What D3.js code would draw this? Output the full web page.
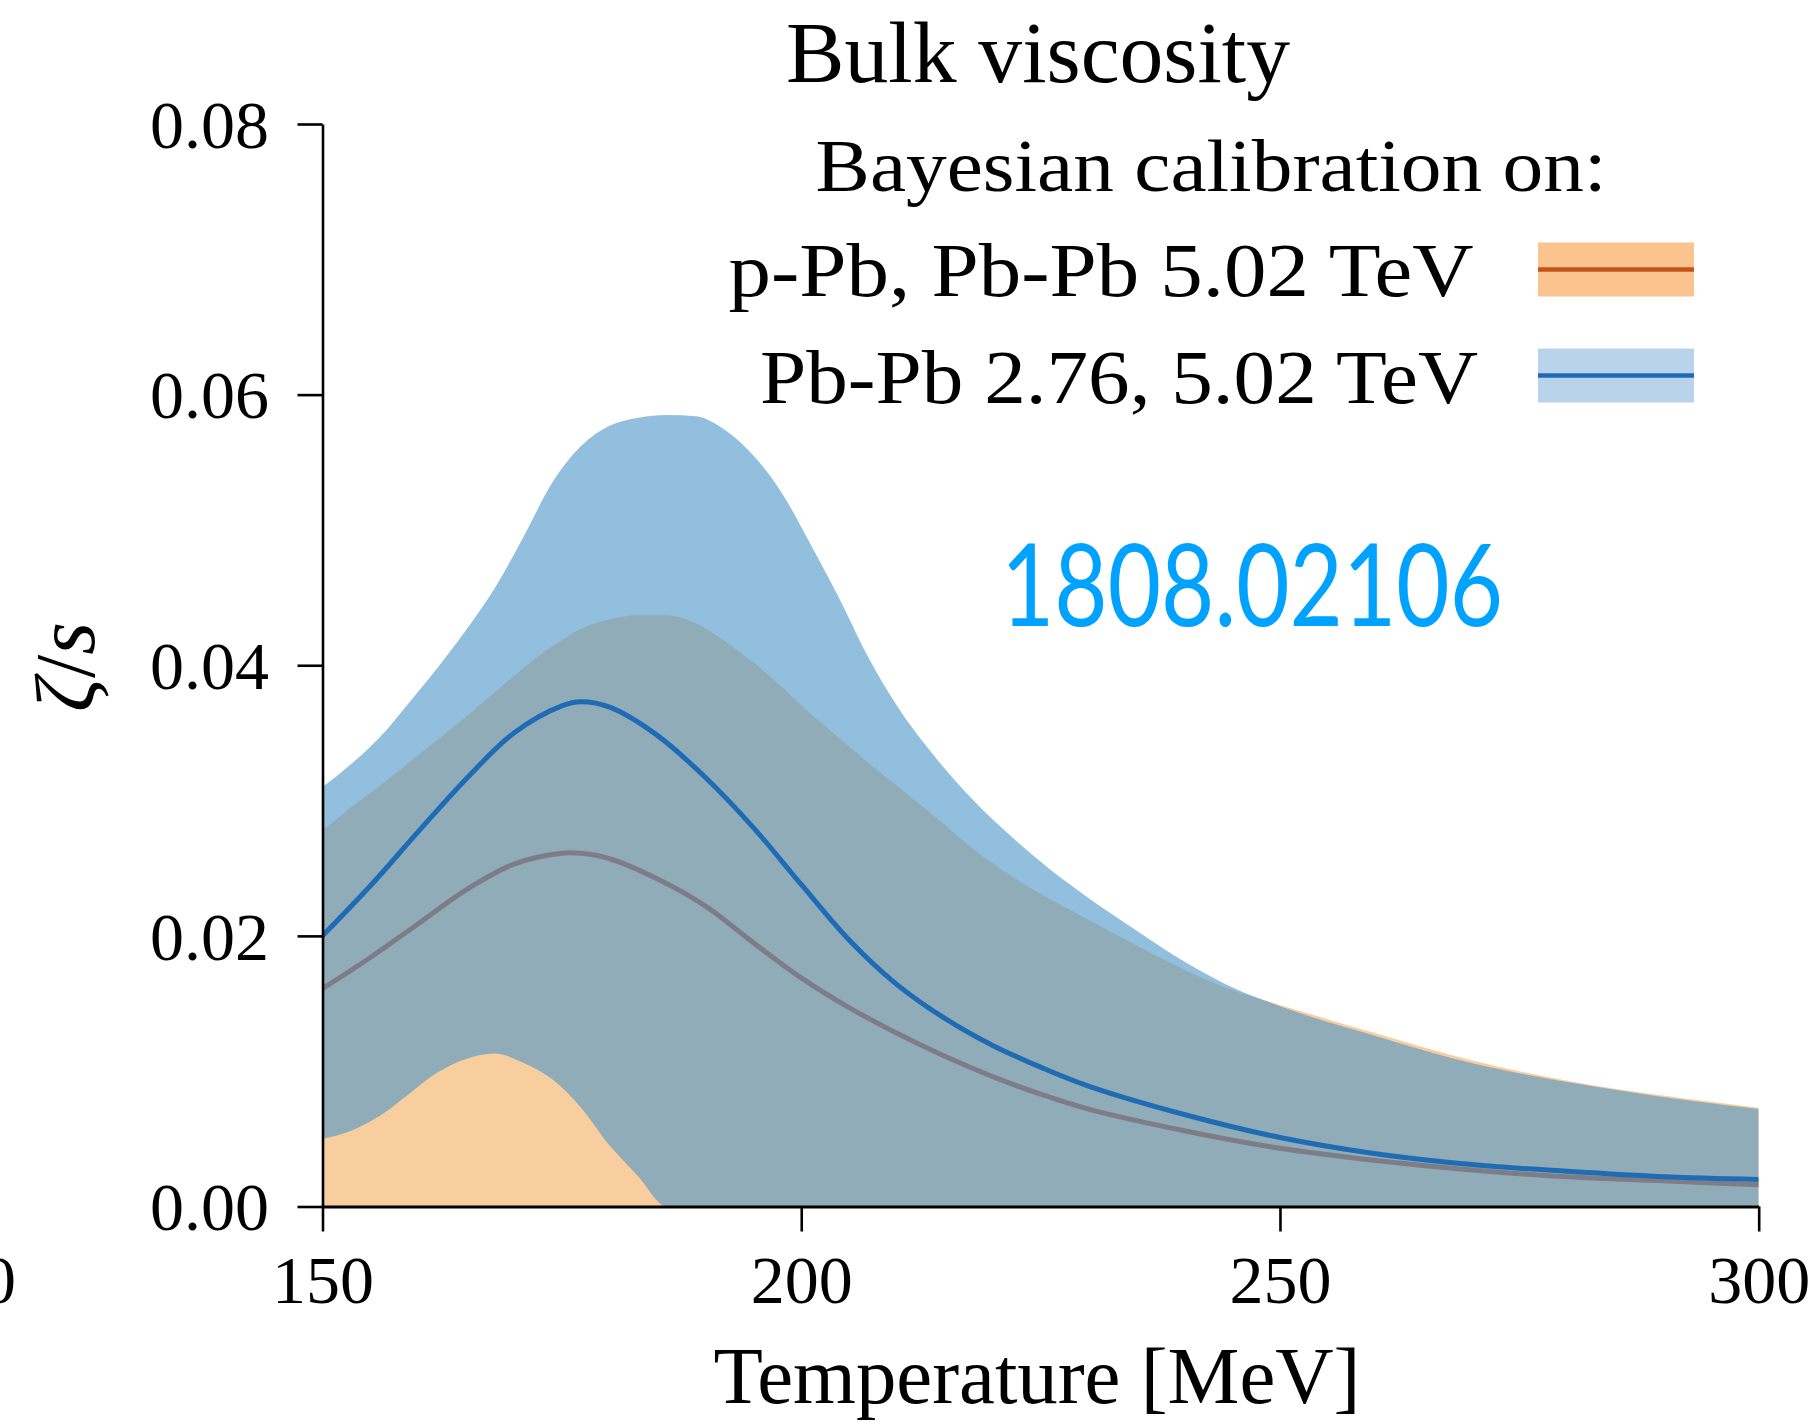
<!DOCTYPE html>
<html>
<head>
<meta charset="utf-8">
<script src="https://cdn.jsdelivr.net/npm/d3@7"></script>
<style>
  html, body { margin: 0; padding: 0; background: #ffffff; }
  svg { display: block; }
  .serif { font-family: "Liberation Serif", "Times New Roman", serif; fill: #000; }
</style>
</head>
<body>
<svg id="chart" width="1819" height="1421"></svg>
<script>
// ---------------- data ----------------
const bandT = [150,153,156,159,162,165,168,171,174,177,180,183,186,189,192,195,198,201,204,207,210,214,218,222,226,230,235,240,245,250,260,270,280,290,300];

// Pb-Pb 2.76, 5.02 TeV band (blue)
const pbpbUpper = [0.0310,0.0327,0.0347,0.0372,0.0398,0.0426,0.0457,0.0495,0.0535,0.0562,0.0577,0.0583,0.0585,0.0584,0.0574,0.0555,0.0527,0.0489,0.0449,0.0406,0.0370,0.0332,0.0300,0.0273,0.0249,0.0228,0.0204,0.0181,0.0162,0.0148,0.0126,0.0106,0.0092,0.0081,0.0072];
const pbpbLower = [0.0050,0.0056,0.0067,0.0083,0.0099,0.0109,0.0113,0.0106,0.0094,0.0073,0.0045,0.0022,0.0000,0,0,0,0,0,0,0,0,0,0,0,0,0,0,0,0,0,0,0,0,0,0];

// p-Pb, Pb-Pb 5.02 TeV band (orange)
const ppbUpper = [0.0278,0.0295,0.0311,0.0328,0.0345,0.0362,0.0380,0.0398,0.0414,0.0427,0.0434,0.0437,0.0437,0.0431,0.0418,0.0402,0.0384,0.0364,0.0346,0.0328,0.0311,0.0288,0.0264,0.0244,0.0227,0.0212,0.0193,0.0175,0.0160,0.0149,0.0128,0.0108,0.0093,0.0082,0.0073];
const ppbLower = [0,0,0,0,0,0,0,0,0,0,0,0,0,0,0,0,0,0,0,0,0,0,0,0,0,0,0,0,0,0,0,0,0,0,0];

// medians
const medT = [150,155,160,165,170,175,177,180,185,190,195,200,205,210,215,220,225,230,240,250,260,270,280,290,300];
const pbpbMedian = [0.0200,0.0237,0.0277,0.0316,0.0350,0.0370,0.0373,0.0369,0.0348,0.0317,0.0280,0.0238,0.0197,0.0164,0.0139,0.0119,0.0103,0.0089,0.0068,0.0051,0.0039,0.0031,0.0026,0.0022,0.0020];
const ppbMedian  = [0.0161,0.0184,0.0209,0.0234,0.0253,0.0261,0.0261,0.0257,0.0242,0.0222,0.0195,0.0169,0.0147,0.0128,0.0111,0.0096,0.0083,0.0072,0.0056,0.0043,0.0034,0.0027,0.0022,0.0019,0.0016];

const xTicks = [150, 200, 250, 300];
const yTicks = [0.00, 0.02, 0.04, 0.06, 0.08];
const legendTitle = "Bayesian calibration on:";
const legendLabels = ["p-Pb, Pb-Pb 5.02 TeV", "Pb-Pb 2.76, 5.02 TeV"];
const titleText = "Bulk viscosity";
const xLabelText = "Temperature [MeV]";
const watermark = "1808.02106";

// ---------------- drawing ----------------
const svg = d3.select("#chart");
svg.append("rect").attr("width", 1819).attr("height", 1421).attr("fill", "#fff");

const x = d3.scaleLinear().domain([150, 300]).range([322.5, 1758.7]);
const y = d3.scaleLinear().domain([0, 0.08]).range([1206.5, 124]);

const colors = {
  orangeBand: "#f9ce9f",
  orangeLine: "#c4531c",
  blueBand: "#4f98ca",
  blueBandOpacity: 0.62,
  blueLine: "#1f6cb4",
  legOrange: "#fbc38e",
  legBlue: "#b9d4ea"
};

const area = d3.area()
  .x(d => x(d.t)).y0(d => y(d.lo)).y1(d => y(d.hi))
  .curve(d3.curveMonotoneX);
const line = d3.line()
  .x(d => x(d.t)).y(d => y(d.v))
  .curve(d3.curveCatmullRom.alpha(0.5));

const ppbBand = bandT.map((t, i) => ({t, lo: ppbLower[i], hi: ppbUpper[i]}));
const pbpbBand = bandT.map((t, i) => ({t, lo: pbpbLower[i], hi: pbpbUpper[i]}));
const ppbMed = medT.map((t, i) => ({t, v: ppbMedian[i]}));
const pbpbMed = medT.map((t, i) => ({t, v: pbpbMedian[i]}));

svg.append("defs").append("clipPath").attr("id", "plotclip")
  .append("rect").attr("x", x(150)).attr("y", y(0.08))
  .attr("width", x(300) - x(150)).attr("height", y(0) - y(0.08));

const plot = svg.append("g").attr("clip-path", "url(#plotclip)");

plot.append("path").datum(ppbBand).attr("d", area).attr("fill", colors.orangeBand);
plot.append("path").datum(ppbMed).attr("d", line)
  .attr("fill", "none").attr("stroke", colors.orangeLine).attr("stroke-width", 5);
plot.append("path").datum(pbpbBand).attr("d", area)
  .attr("fill", colors.blueBand).attr("fill-opacity", colors.blueBandOpacity);
plot.append("path").datum(pbpbMed).attr("d", line)
  .attr("fill", "none").attr("stroke", colors.blueLine).attr("stroke-width", 5);

// axes
const yAxis = d3.axisLeft(y).tickValues(yTicks).tickFormat(d3.format(".2f"))
  .tickSize(25).tickSizeOuter(0).tickPadding(28.5);
const xAxis = d3.axisBottom(x).tickValues(xTicks).tickFormat(d3.format("d"))
  .tickSize(25).tickSizeOuter(0).tickPadding(23.5);

const gy = svg.append("g").attr("transform", `translate(${x(150)},0)`).call(yAxis);
const gx = svg.append("g").attr("transform", `translate(0,${y(0)})`).call(xAxis);

[gy, gx].forEach(g => {
  g.select(".domain").attr("stroke", "#000").attr("stroke-width", 2.6);
  g.selectAll(".tick line").attr("stroke", "#000").attr("stroke-width", 2.6);
  g.selectAll(".tick text")
    .attr("font-family", "'Liberation Serif', 'Times New Roman', serif")
    .attr("font-size", 68).attr("fill", "#000");
});
gx.select(".domain").attr("stroke-width", 3.2);
gy.selectAll(".tick text").attr("dy", "0.34em");

// partially visible tick label from the neighbouring panel at the left edge
svg.append("text").attr("class", "serif")
  .attr("x", 16).attr("y", y(0) + 23.5 + 25).attr("dy", "0.71em")
  .attr("text-anchor", "end").attr("font-size", 68).text("300");

// title
svg.append("text").attr("class", "serif")
  .attr("x", 786).attr("y", 82).attr("font-size", 86)
  .attr("textLength", 504).attr("lengthAdjust", "spacingAndGlyphs")
  .text(titleText);

// x label
svg.append("text").attr("class", "serif")
  .attr("x", 713.5).attr("y", 1403).attr("font-size", 80)
  .attr("textLength", 647).attr("lengthAdjust", "spacingAndGlyphs")
  .text(xLabelText);

// y label  ζ/s
const yl = svg.append("text").attr("class", "serif")
  .attr("transform", "translate(94,667) rotate(-90)")
  .attr("text-anchor", "middle").attr("font-size", 84);
yl.append("tspan").attr("font-style", "italic").text("ζ");
yl.append("tspan").text("/");
yl.append("tspan").attr("font-style", "italic").text("s");

// legend
svg.append("text").attr("class", "serif")
  .attr("x", 815.6).attr("y", 191).attr("font-size", 75)
  .attr("textLength", 791).attr("lengthAdjust", "spacingAndGlyphs")
  .text(legendTitle);

const legItems = [
  {label: legendLabels[0], patch: colors.legOrange, line: colors.orangeLine, cy: 269.5, base: 296, left: 728.6, len: 745},
  {label: legendLabels[1], patch: colors.legBlue, line: colors.blueLine, cy: 375.5, base: 403, left: 760, len: 718}
];
legItems.forEach(it => {
  svg.append("rect").attr("x", 1538).attr("y", it.cy - 27).attr("width", 156).attr("height", 54)
    .attr("fill", it.patch);
  svg.append("line").attr("x1", 1538).attr("x2", 1694).attr("y1", it.cy).attr("y2", it.cy)
    .attr("stroke", it.line).attr("stroke-width", 4.5);
  svg.append("text").attr("class", "serif")
    .attr("x", it.left).attr("y", it.base).attr("font-size", 77)
    .attr("textLength", it.len).attr("lengthAdjust", "spacingAndGlyphs")
    .text(it.label);
});

// watermark
svg.append("text")
  .attr("x", 1001).attr("y", 626)
  .attr("font-family", "Lato, 'Open Sans', sans-serif")
  .attr("font-size", 114).attr("fill", "#00a2ff")
  .attr("textLength", 502).attr("lengthAdjust", "spacingAndGlyphs")
  .text(watermark);
</script>
</body>
</html>
